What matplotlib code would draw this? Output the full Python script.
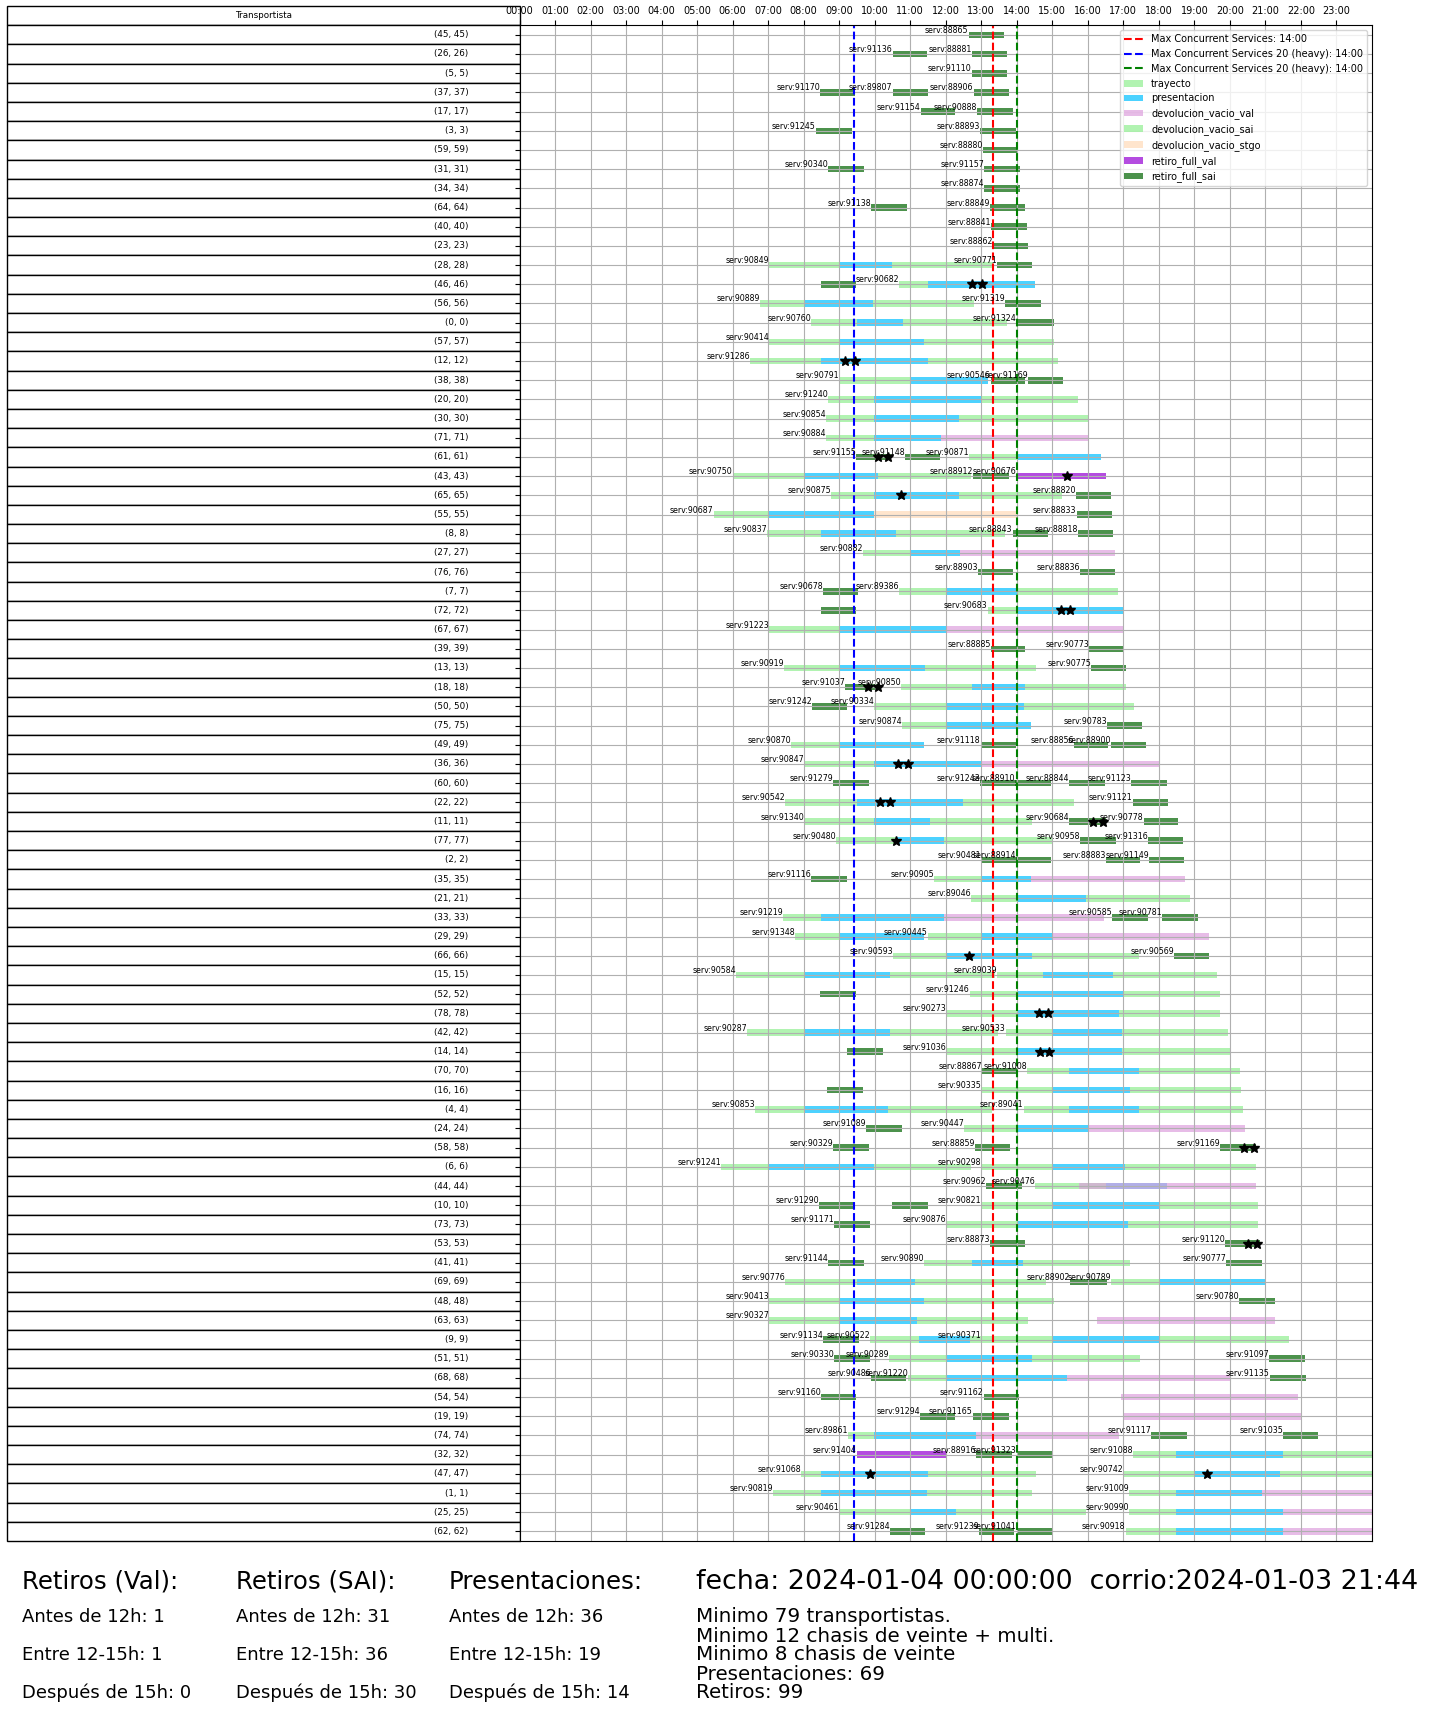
import matplotlib
matplotlib.use("Agg")
import matplotlib.pyplot as plt
from matplotlib.patches import Patch
from matplotlib.lines import Line2D

# filas del gantt (transportista), de arriba hacia abajo
transportistas = [45, 26, 5, 37, 17, 3, 59, 31, 34, 64,
                  40, 23, 28, 46, 56, 0, 57, 12, 38, 20,
                  30, 71, 61, 43, 65, 55, 8, 27, 76, 7,
                  72, 67, 39, 13, 18, 50, 75, 49, 36, 60,
                  22, 11, 77, 2, 35, 21, 33, 29, 66, 15,
                  52, 78, 42, 14, 70, 16, 4, 24, 58, 6,
                  44, 10, 73, 53, 41, 69, 48, 63, 9, 51,
                  68, 54, 19, 74, 32, 47, 1, 25, 62]

tipos = ["trayecto", "presentacion", "devolucion_vacio_val", "devolucion_vacio_sai",
         "devolucion_vacio_stgo", "retiro_full_val", "retiro_full_sai"]
colores = ["lightgreen", "deepskyblue", "plum", "lightgreen",
           "peachpuff", "darkviolet", "darkgreen"]
codigo_tipo = {"t": "trayecto", "p": "presentacion", "v": "devolucion_vacio_val",
               "s": "devolucion_vacio_stgo", "R": "retiro_full_val", "G": "retiro_full_sai"}

# (fila, servicio, tipo, inicio [h], fin [h])
tramos = [
    (0, "88865", "G", 12.64, 13.64),
    (1, "91136", "G", 10.50, 11.48), (1, "88881", "G", 12.73, 13.71),
    (2, "91110", "G", 12.73, 13.71),
    (3, "91170", "G", 8.46, 9.43), (3, "89807", "G", 10.50, 11.50), (3, "88906", "G", 12.78, 13.79),
    (4, "91154", "G", 11.29, 12.27), (4, "90888", "G", 12.88, 13.90),
    (5, "91245", "G", 8.34, 9.35), (5, "88893", "G", 12.96, 13.98),
    (6, "88880", "G", 13.05, 14.04),
    (7, "90340", "G", 8.68, 9.69), (7, "91157", "G", 13.08, 14.08),
    (8, "88874", "G", 13.08, 14.08),
    (9, "91138", "G", 9.89, 10.90), (9, "88849", "G", 13.25, 14.23),
    (10, "88841", "G", 13.28, 14.30),
    (11, "88862", "G", 13.32, 14.32),
    (12, "90849", "t", 7.02, 9.00), (12, "90849", "p", 9.00, 10.49), (12, "90849", "t", 10.49, 13.32),
    (12, "90771", "G", 13.44, 14.43),
    (13, None, "G", 8.49, 9.48),
    (13, "90682", "t", 10.68, 11.49), (13, "90682", "p", 11.49, 14.50),
    (14, "90889", "t", 6.78, 8.01), (14, "90889", "p", 8.01, 9.96), (14, "90889", "t", 9.96, 12.78),
    (14, "91319", "G", 13.66, 14.67),
    (15, "90760", "t", 8.21, 9.49), (15, "90760", "p", 9.49, 10.80), (15, "90760", "t", 10.80, 13.71),
    (15, "91324", "G", 14.00, 15.04),
    (16, "90414", "t", 7.02, 9.01), (16, "90414", "p", 9.01, 11.38), (16, "90414", "t", 11.38, 15.04),
    (17, "91286", "t", 6.50, 8.49), (17, "91286", "p", 8.49, 11.49), (17, "91286", "t", 11.49, 15.15),
    (18, "90791", "t", 9.01, 11.00), (18, "90791", "p", 11.00, 13.20),
    (18, "90546", "G", 13.26, 14.24), (18, "91169", "G", 14.31, 15.29),
    (19, "91240", "t", 8.69, 9.99), (19, "91240", "p", 9.99, 12.98), (19, "91240", "t", 12.98, 15.73),
    (20, "90854", "t", 8.63, 9.99), (20, "90854", "p", 9.99, 12.36), (20, "90854", "t", 12.36, 16.03),
    (21, "90884", "t", 8.63, 9.99), (21, "90884", "p", 9.99, 11.86), (21, "90884", "v", 11.86, 16.03),
    (22, "91155", "G", 9.48, 10.45), (22, "91148", "G", 10.85, 11.85),
    (22, "90871", "t", 12.65, 14.00), (22, "90871", "p", 14.00, 16.38),
    (23, "90750", "t", 6.00, 8.01), (23, "90750", "p", 8.01, 10.09), (23, "90750", "t", 10.09, 12.71),
    (23, "88912", "G", 12.76, 13.77), (23, "90676", "R", 14.00, 16.50),
    (24, "90875", "t", 8.77, 9.99), (24, "90875", "p", 9.99, 12.36), (24, "90875", "t", 12.36, 15.26),
    (24, "88820", "G", 15.66, 16.66),
    (25, "90687", "t", 5.46, 7.02), (25, "90687", "p", 7.02, 9.98), (25, "90687", "s", 9.98, 14.00),
    (25, "88833", "G", 15.68, 16.69),
    (26, "90837", "t", 6.97, 8.49), (26, "90837", "p", 8.49, 10.60), (26, "90837", "t", 10.60, 13.66),
    (26, "88843", "G", 13.88, 14.89), (26, "88818", "G", 15.73, 16.72),
    (27, "90882", "t", 9.67, 11.00), (27, "90882", "p", 11.00, 12.40), (27, "90882", "v", 12.40, 16.75),
    (28, "88903", "G", 12.90, 13.88), (28, "88836", "G", 15.77, 16.75),
    (29, "90678", "G", 8.54, 9.52),
    (29, "89386", "t", 10.68, 12.01), (29, "89386", "p", 12.01, 14.00), (29, "89386", "t", 14.00, 16.86),
    (30, None, "G", 8.49, 9.48),
    (30, "90683", "t", 13.18, 14.00), (30, "90683", "p", 14.00, 17.00),
    (31, "91223", "t", 7.02, 9.01), (31, "91223", "p", 9.01, 12.01), (31, "91223", "v", 12.01, 17.00),
    (32, "88885", "G", 13.27, 14.24), (32, "90773", "G", 16.04, 17.01),
    (33, "90919", "t", 7.45, 9.01), (33, "90919", "p", 9.01, 11.41), (33, "90919", "t", 11.41, 14.53),
    (33, "90775", "G", 16.10, 17.08),
    (34, "91037", "G", 9.16, 10.14),
    (34, "90850", "t", 10.74, 12.73), (34, "90850", "p", 12.73, 14.22), (34, "90850", "t", 14.22, 17.08),
    (35, "91242", "G", 8.23, 9.23),
    (35, "90334", "t", 9.99, 12.01), (35, "90334", "p", 12.01, 14.19), (35, "90334", "t", 14.19, 17.30),
    (36, "90874", "t", 10.76, 12.01), (36, "90874", "p", 12.01, 14.39),
    (36, "90783", "G", 16.55, 17.53),
    (37, "90870", "t", 7.65, 9.01), (37, "90870", "p", 9.01, 11.38),
    (37, "91118", "G", 12.98, 13.97), (37, "88856", "G", 15.60, 16.58), (37, "88900", "G", 16.66, 17.64),
    (38, "90847", "t", 8.01, 9.99), (38, "90847", "p", 9.99, 12.98), (38, "90847", "v", 12.98, 18.00),
    (39, "91279", "G", 8.83, 9.83), (39, "91243", "G", 12.97, 13.97), (39, "88910", "G", 13.95, 14.95),
    (39, "88844", "G", 15.48, 16.49), (39, "91123", "G", 17.22, 18.23),
    (40, "90542", "t", 7.48, 9.49), (40, "90542", "p", 9.49, 12.48), (40, "90542", "t", 12.48, 15.60),
    (40, "91121", "G", 17.26, 18.26),
    (41, "91340", "t", 8.01, 9.99), (41, "91340", "p", 9.99, 11.56), (41, "91340", "t", 11.56, 14.44),
    (41, "90684", "G", 15.48, 16.50), (41, "90778", "G", 17.57, 18.54),
    (42, "90480", "t", 8.92, 10.60), (42, "90480", "p", 10.60, 11.94), (42, "90480", "t", 11.94, 14.99),
    (42, "90958", "G", 15.79, 16.80), (42, "91316", "G", 17.70, 18.68),
    (43, "90481", "G", 13.00, 14.01), (43, "88914", "G", 13.98, 14.97),
    (43, "88883", "G", 16.50, 17.48), (43, "91149", "G", 17.73, 18.72),
    (44, "91116", "G", 8.21, 9.23),
    (44, "90905", "t", 11.67, 13.00), (44, "90905", "p", 13.00, 14.39), (44, "90905", "v", 14.39, 18.74),
    (45, "89046", "t", 12.71, 14.00), (45, "89046", "p", 14.00, 15.95), (45, "89046", "t", 15.95, 18.88),
    (46, "91219", "t", 7.43, 8.49), (46, "91219", "p", 8.49, 11.94), (46, "91219", "v", 11.94, 16.46),
    (46, "90585", "G", 16.69, 17.70), (46, "90781", "G", 18.10, 19.10),
    (47, "91348", "t", 7.76, 9.01), (47, "91348", "p", 9.01, 11.38),
    (47, "90445", "t", 11.49, 13.00), (47, "90445", "p", 13.00, 14.99), (47, "90445", "v", 14.99, 19.41),
    (48, "90593", "t", 10.51, 12.01), (48, "90593", "p", 12.01, 14.44), (48, "90593", "t", 14.44, 17.45),
    (48, "90569", "G", 18.43, 19.41),
    (49, "90584", "t", 6.10, 8.01), (49, "90584", "p", 8.01, 10.43), (49, "90584", "t", 10.43, 13.38),
    (49, "89039", "t", 13.44, 14.75), (49, "89039", "p", 14.75, 16.72), (49, "89039", "t", 16.72, 19.63),
    (50, None, "G", 8.46, 9.46),
    (50, "91246", "t", 12.67, 14.00), (50, "91246", "p", 14.00, 17.00), (50, "91246", "t", 17.00, 19.72),
    (51, "90273", "t", 12.01, 14.00), (51, "90273", "p", 14.00, 16.88), (51, "90273", "t", 16.88, 19.72),
    (52, "90287", "t", 6.41, 8.01), (52, "90287", "p", 8.01, 10.43), (52, "90287", "t", 10.43, 13.46),
    (52, "90533", "t", 13.69, 14.99), (52, "90533", "p", 14.99, 16.97), (52, "90533", "t", 16.97, 19.94),
    (53, None, "G", 9.23, 10.23),
    (53, "91036", "t", 12.01, 14.00), (53, "91036", "p", 14.00, 16.95), (53, "91036", "t", 16.95, 19.99),
    (54, "88867", "G", 13.02, 14.00),
    (54, "91008", "t", 14.28, 15.48), (54, "91008", "p", 15.48, 17.45), (54, "91008", "t", 17.45, 20.28),
    (55, None, "G", 8.66, 9.66),
    (55, "90335", "t", 13.00, 14.99), (55, "90335", "p", 14.99, 17.19), (55, "90335", "t", 17.19, 20.32),
    (56, "90853", "t", 6.64, 8.01), (56, "90853", "p", 8.01, 10.38), (56, "90853", "t", 10.38, 13.30),
    (56, "89041", "t", 14.19, 15.48), (56, "89041", "p", 15.48, 17.45), (56, "89041", "t", 17.45, 20.37),
    (57, "91089", "G", 9.76, 10.76),
    (57, "90447", "t", 12.51, 14.00), (57, "90447", "p", 14.00, 16.00), (57, "90447", "v", 16.00, 20.43),
    (58, "90329", "G", 8.83, 9.83), (58, "88859", "G", 12.82, 13.82), (58, "91169", "G", 19.72, 20.72),
    (59, "91241", "t", 5.68, 7.02), (59, "91241", "p", 7.02, 9.98), (59, "91241", "t", 9.98, 12.71),
    (59, "90298", "t", 13.00, 14.99), (59, "90298", "p", 14.99, 17.05), (59, "90298", "t", 17.05, 20.73),
    (60, "90962", "G", 13.14, 14.14),
    (60, "90476", "t", 14.51, 16.50), (60, "90476", "p", 16.50, 18.23), (60, "90476", "v", 15.74, 20.73),
    (61, "91290", "G", 8.43, 9.42), (61, None, "G", 10.49, 11.49),
    (61, "90821", "t", 13.00, 14.99), (61, "90821", "p", 14.99, 17.99), (61, "90821", "t", 17.99, 20.80),
    (62, "91171", "G", 8.85, 9.87),
    (62, "90876", "t", 12.01, 14.00), (62, "90876", "p", 14.00, 17.14), (62, "90876", "t", 17.14, 20.80),
    (63, "88873", "G", 13.24, 14.22), (63, "91120", "G", 19.86, 20.84),
    (64, "91144", "G", 8.69, 9.70),
    (64, "90890", "t", 11.38, 12.73), (64, "90890", "p", 12.73, 14.16), (64, "90890", "t", 14.16, 17.19),
    (64, "90777", "G", 19.89, 20.90),
    (65, "90776", "t", 7.48, 9.49), (65, "90776", "p", 9.49, 11.13), (65, "90776", "t", 11.13, 14.81),
    (65, "88902", "G", 15.51, 16.53),
    (65, "90789", "t", 16.64, 18.00), (65, "90789", "p", 18.00, 20.99),
    (66, "90413", "t", 7.02, 9.01), (66, "90413", "p", 9.01, 11.38), (66, "90413", "t", 11.38, 15.04),
    (66, "90780", "G", 20.25, 21.27),
    (67, "90327", "t", 7.02, 9.01), (67, "90327", "p", 9.01, 11.18), (67, "90327", "t", 11.18, 14.31),
    (67, None, "v", 16.26, 21.27),
    (68, "91134", "G", 8.54, 9.56),
    (68, "90522", "t", 9.87, 11.25), (68, "90522", "p", 11.25, 12.67), (68, "90522", "t", 12.67, 13.00),
    (68, "90371", "t", 13.00, 14.99), (68, "90371", "p", 14.99, 17.99), (68, "90371", "t", 17.99, 21.65),
    (69, "90330", "G", 8.85, 9.87),
    (69, "90289", "t", 10.40, 12.01), (69, "90289", "p", 12.01, 14.44), (69, "90289", "t", 14.44, 17.48),
    (69, "91097", "G", 21.10, 22.10),
    (70, "90486", "G", 9.89, 10.87),
    (70, "91220", "t", 10.94, 12.01), (70, "91220", "p", 12.01, 15.42), (70, "91220", "v", 15.42, 19.99),
    (70, "91135", "G", 21.12, 22.14),
    (71, "91160", "G", 8.49, 9.48), (71, "91162", "G", 13.07, 14.05), (71, None, "v", 16.92, 21.92),
    (72, "91294", "G", 11.27, 12.25), (72, "91165", "G", 12.76, 13.77), (72, None, "v", 17.00, 22.01),
    (73, "89861", "t", 9.25, 9.99), (73, "89861", "p", 9.99, 12.84), (73, "89861", "v", 12.84, 16.88),
    (73, "91117", "G", 17.79, 18.79), (73, "91035", "G", 21.49, 22.47),
    (74, "91404", "R", 9.49, 12.01), (74, "88916", "G", 12.84, 13.86), (74, "91323", "G", 14.00, 14.98),
    (74, "91088", "t", 17.26, 18.48), (74, "91088", "p", 18.48, 21.49), (74, "91088", "t", 21.49, 24.50),
    (75, "91068", "t", 7.92, 8.49), (75, "91068", "p", 8.49, 11.49), (75, "91068", "t", 11.49, 14.55),
    (75, "90742", "t", 17.00, 18.99), (75, "90742", "p", 18.99, 21.41), (75, "90742", "t", 21.41, 24.50),
    (76, "90819", "t", 7.14, 8.49), (76, "90819", "p", 8.49, 11.47), (76, "90819", "t", 11.47, 14.42),
    (76, "91009", "t", 17.17, 18.48), (76, "91009", "p", 18.48, 20.90), (76, "91009", "v", 20.90, 24.50),
    (77, "90461", "t", 9.01, 11.00), (77, "90461", "p", 11.00, 12.29), (77, "90461", "t", 12.29, 15.95),
    (77, "90990", "t", 17.17, 18.48), (77, "90990", "p", 18.48, 21.49), (77, "90990", "v", 21.49, 24.50),
    (78, "91284", "G", 10.43, 11.41), (78, "91239", "G", 12.93, 13.92), (78, "91041", "G", 14.00, 14.98),
    (78, "90918", "t", 17.06, 18.48), (78, "90918", "p", 18.48, 21.49), (78, "90918", "v", 21.49, 24.50),
]

# marcas de estrella (fila, hora)
estrella_fila = [13, 13, 17, 17, 22, 22, 23, 24, 30, 30, 34, 34, 38, 38, 40, 40, 41, 41,
                 42, 48, 51, 51, 53, 53, 58, 58, 63, 63, 75, 75]
estrella_hora = [12.74, 13.01, 9.16, 9.44, 10.09, 10.37, 15.40, 10.74, 15.24, 15.51,
                 9.82, 10.09, 10.66, 10.94, 10.15, 10.43, 16.15, 16.42, 10.60, 12.65,
                 14.62, 14.89, 14.64, 14.91, 20.40, 20.68, 20.50, 20.77, 9.87, 19.36]

# lineas de maxima concurrencia
max_lineas = [13.33, 9.42, 14.00]
max_colores = ["red", "blue", "green"]
max_textos = ["Max Concurrent Services: 14:00",
              "Max Concurrent Services 20 (heavy): 14:00",
              "Max Concurrent Services 20 (heavy): 14:00"]

# resumen inferior
retiros_val = [1, 1, 0]
retiros_sai = [31, 36, 30]
presentaciones = [36, 19, 14]
fecha = "2024-01-04 00:00:00"
corrio = "2024-01-03 21:44"
resumen = ["Minimo 79 transportistas.", "Minimo 12 chasis de veinte + multi.",
           "Minimo 8 chasis de veinte", "Presentaciones: 69", "Retiros: 99"]

W, H = 1431, 1711
fig = plt.figure(figsize=(W / 100, H / 100), dpi=100)

top_px, bot_px = 25.3, 1541
ax = fig.add_axes([519.6 / W, 1 - bot_px / H, (1372 - 519.6) / W, (bot_px - top_px) / H])
ax.set_zorder(2)
n = len(transportistas)

for tipo, col in zip(tipos, colores):
    sel = [tr for tr in tramos if codigo_tipo[tr[2]] == tipo]
    if not sel:
        continue
    ax.barh([tr[0] for tr in sel], [tr[4] - tr[3] for tr in sel], left=[tr[3] for tr in sel],
            height=0.34, color=col, alpha=0.7)

# etiqueta de cada servicio al inicio del servicio
inicio = {}
for fila, serv, tipo, ini, fin in tramos:
    if serv is None:
        continue
    k = (fila, serv)
    inicio[k] = min(inicio.get(k, ini), ini)
for (fila, serv), ini in inicio.items():
    ax.text(ini, fila, "serv:" + serv, ha="right", va="bottom", fontsize=5.7, zorder=4)

ax.plot(estrella_hora, estrella_fila, "*", color="black", markersize=7, linestyle="none", zorder=5)

for x, c in zip(max_lineas, max_colores):
    ax.axvline(x, color=c, linestyle="--", linewidth=1.5)

ax.set_xlim(0, 24)
ax.set_ylim(n - 0.5, -0.5)
ax.set_xticks(range(24))
ax.set_xticklabels([f"{h:02d}:00" for h in range(24)])
ax.xaxis.tick_top()
ax.tick_params(axis="x", labelsize=7)
ax.set_yticks(range(n))
ax.set_yticklabels([])
ax.grid(True)

handles = [Line2D([0], [0], color=c, linestyle="--", linewidth=1.5, label=t)
           for c, t in zip(max_colores, max_textos)]
handles += [Patch(facecolor=c, alpha=0.7, label=t) for t, c in zip(tipos, colores)]
ax.legend(handles=handles, loc="upper right", fontsize=7)

# tabla de transportistas a la izquierda
tab_ax = fig.add_axes([7.3 / W, 1 - bot_px / H, (519.6 - 7.3) / W, (bot_px - 6) / H])
tab_ax.set_zorder(1)
tab_ax.axis("off")
tabla = tab_ax.table(cellText=[[f"({t}, {t})"] for t in transportistas], colLabels=["Transportista"],
                     cellLoc="right", colLoc="center", bbox=[0, 0, 1, 1])
tabla.auto_set_font_size(False)
tabla.set_fontsize(6.3)

# textos de resumen
def fy(px):
    return 1 - px / H

cols = [("Retiros (Val):", retiros_val, 22), ("Retiros (SAI):", retiros_sai, 236),
        ("Presentaciones:", presentaciones, 449)]
for titulo, vals, x in cols:
    fig.text(x / W, fy(1582), titulo, fontsize=17.6, va="center")
    for etiqueta, v, y in zip(["Antes de 12h", "Entre 12-15h", "Después de 15h"], vals, [1617, 1655, 1693]):
        fig.text(x / W, fy(y), f"{etiqueta}: {v}", fontsize=13, va="center")

fig.text(696 / W, fy(1582), f"fecha: {fecha}  corrio:{corrio}", fontsize=19.4, va="center")
for linea, y in zip(resumen, [1617, 1636, 1655, 1674, 1693]):
    fig.text(696 / W, fy(y), linea, fontsize=14.3, va="center")

fig.savefig("out.png", dpi=100)
